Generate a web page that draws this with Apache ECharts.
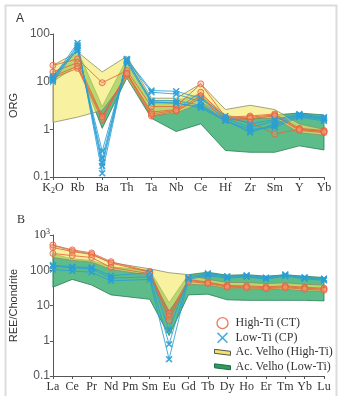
<!DOCTYPE html>
<html>
<head>
<meta charset="utf-8">
<script src="https://cdn.jsdelivr.net/npm/echarts@6/dist/echarts.min.js"></script>
<style>
  html, body { margin: 0; padding: 0; background: #fff; }
  #chart { width: 349px; height: 396px; }
</style>
</head>
<body>
<div id="chart"></div>
<script>
// categories
var orgElements = ['K2O', 'Rb', 'Ba', 'Th', 'Ta', 'Nb', 'Ce', 'Hf', 'Zr', 'Sm', 'Y', 'Yb']
var reeElements = ['La', 'Ce', 'Pr', 'Nd', 'Pm', 'Sm', 'Eu', 'Gd', 'Tb', 'Dy', 'Ho', 'Er', 'Tm', 'Yb', 'Lu']

// A - ORG normalized
// Ac. Velho fields (upper / lower limits)
var orgVelhoHighHi = [22, 42, 16, 34, 4.5, 4.5, 9, 2.6, 3.2, 2.6, 1.3, 1.0]
var orgVelhoHighLo = [1.4, 1.8, 2.5, 12, 1.9, 2.2, 3.5, 1.6, 1.7, 1.7, 0.85, 0.75]
var orgVelhoLowHi = [14, 45, 3.0, 30, 4.0, 4.0, 5.5, 2.0, 1.6, 2.0, 2.2, 2.0]
var orgVelhoLowLo = [10, 22, 1.05, 12, 1.7, 0.9, 1.3, 0.36, 0.33, 0.33, 0.45, 0.37]
// High-Ti (CT) samples
var orgCT1 = [22, 30, 9.5, 17, 3.0, 3.0, 9.0, 1.8, 1.9, 2.1, 1.05, 0.95]
var orgCT2 = [16, 25, 1.9, 15, 2.3, 2.6, 6.0, 1.7, 1.8, 2.0, 1.0, 0.9]
var orgCT3 = [12, 19, 1.6, 14, 1.9, 2.4, 4.5, 1.6, 1.7, 1.9, 0.95, 0.85]
var orgCT4 = [13, 21, 1.8, 15, 2.1, 2.5, 5.0, 1.7, 1.4, 0.8, 1.0, 0.9]
// Low-Ti (CP) samples
var orgCP1 = [12, 65, 0.12, 30, 6.5, 6.3, 4.5, 1.9, 1.3, 1.6, 2.1, 1.8]
var orgCP2 = [11, 58, 0.17, 28, 6.0, 5.5, 3.8, 1.7, 1.1, 1.5, 2.0, 1.7]
var orgCP3 = [10, 50, 0.25, 27, 4.0, 4.0, 3.2, 1.5, 0.9, 1.2, 1.9, 1.6]
var orgCP4 = [13, 45, 0.35, 25, 3.6, 3.6, 2.8, 1.5, 1.0, 1.1, 1.8, 1.5]
var orgCP5 = [11, 55, 0.2, 29, 3.8, 3.5, 3.0, 1.6, 0.85, 1.3, 2.0, 1.7]

// B - REE / Chondrite
var reeVelhoHighHi = [500, 360, 290, 165, null, 110, 85, 75, 55, 45, 45, 42, 44, 40, 38]
var reeVelhoHighLo = [230, 190, 170, 105, null, 72, 7, 40, 38, 30, 30, 28, 29, 26, 25]
var reeVelhoLowHi = [290, 210, 190, 125, null, 100, 12, 75, 88, 72, 75, 68, 74, 68, 62]
var reeVelhoLowLo = [33, 55, 38, 20, null, 15, 1.4, 20, 21, 14.5, 14, 14, 14, 14, 13.5]
var reeCT1 = [520, 380, 310, 175, null, 92, 6.0, 55, 46, 37, 36, 34, 36, 33, 31]
var reeCT2 = [440, 340, 280, 160, null, 88, 4.8, 52, 44, 35, 34, 32, 34, 31, 29]
var reeCT3 = [300, 260, 230, 120, null, 80, 3.8, 48, 42, 33, 32, 30, 32, 29, 27]
var reeCP1 = [140, 125, 120, 70, null, 85, 2.0, 62, 82, 68, 72, 62, 76, 63, 58]
var reeCP2 = [130, 118, 110, 60, null, 65, 0.8, 58, 76, 63, 68, 58, 72, 60, 55]
var reeCP3 = [105, 95, 88, 50, null, 55, 0.3, 55, 70, 60, 65, 56, 68, 57, 52]

var ctColor = '#e8643c'
var cpColor = '#2a9fd6'
var yellowFill = 'rgba(243, 232, 95, 0.6)'
var greenFill = 'rgba(70, 180, 122, 0.88)'
var serif = 'Liberation Serif'
var xPath = 'path://M0,1L1,0L5,4L9,0L10,1L6,5L10,9L9,10L5,6L1,10L0,9L4,5Z'
var bandPath = 'path://M0,2L16,4L16,8L0,6Z'

function fieldSeries (name, lo, hi, idx, fill, stroke) {
  return {
    type: 'custom',
    name: name,
    xAxisIndex: idx,
    yAxisIndex: idx,
    data: [[0, 1]],
    silent: true,
    z: 1,
    renderItem: function (params, api) {
      var pts = []
      for (var i = 0; i < hi.length; i++) {
        if (hi[i] != null) pts.push(api.coord([i, hi[i]]))
      }
      for (var j = lo.length - 1; j >= 0; j--) {
        if (lo[j] != null) pts.push(api.coord([j, lo[j]]))
      }
      return {
        type: 'polygon',
        shape: { points: pts },
        style: { fill: fill, stroke: stroke, lineWidth: 0.8 }
      }
    }
  }
}

function sampleSeries (name, vals, idx, color, symbol, fill) {
  return {
    type: 'line',
    name: name,
    xAxisIndex: idx,
    yAxisIndex: idx,
    data: vals,
    connectNulls: true,
    symbol: symbol,
    symbolSize: 6,
    silent: true,
    z: 3,
    lineStyle: { color: color, width: 1, opacity: 0.85 },
    itemStyle: { color: fill, borderColor: color, borderWidth: 1, opacity: 0.85 }
  }
}

function yLabel (value) {
  if (value >= 999) return '{n|10}{sup|3}'
  if (value >= 1) return String(Math.round(value))
  return '0.1'
}

function xLabel (value) {
  if (value === 'K2O') return '{n|K}{sub|2}{n|O}'
  return '{n|' + value + '}'
}

var labelRich = {
  n: { fontFamily: serif, fontSize: 12, color: '#333', lineHeight: 14 },
  sub: { fontFamily: serif, fontSize: 8, color: '#333', lineHeight: 8, verticalAlign: 'bottom' },
  sup: { fontFamily: serif, fontSize: 8, color: '#333', lineHeight: 8, verticalAlign: 'top' }
}

function makeX (cats, gridIndex) {
  return {
    type: 'category',
    gridIndex: gridIndex,
    data: cats,
    boundaryGap: false,
    axisLine: { lineStyle: { color: '#555', width: 1 } },
    axisTick: { show: true, length: 3, inside: false, lineStyle: { color: '#555' } },
    axisLabel: { interval: 0, margin: 4, formatter: xLabel, rich: labelRich },
    splitLine: { show: false }
  }
}

function makeY (name, max, gridIndex, gap) {
  return {
    type: 'log',
    logBase: 10,
    gridIndex: gridIndex,
    min: 0.1,
    max: max,
    name: name,
    nameLocation: 'middle',
    nameGap: gap,
    nameTextStyle: { fontFamily: 'Liberation Sans', fontSize: 11, color: '#333' },
    axisLine: { show: true, lineStyle: { color: '#555', width: 1 } },
    axisTick: { show: true, length: 3, lineStyle: { color: '#555' } },
    axisLabel: { margin: 3, formatter: yLabel, rich: labelRich },
    splitLine: { show: false },
    minorTick: { show: false }
  }
}

var chart = echarts.init(document.getElementById('chart'), null, { renderer: 'canvas' })

var series = [
  fieldSeries('Ac. Velho (Low-Ti)', orgVelhoLowLo, orgVelhoLowHi, 0, greenFill, '#2a7f55'),
  fieldSeries('Ac. Velho (High-Ti)', orgVelhoHighLo, orgVelhoHighHi, 0, yellowFill, '#8d8d6a'),
  fieldSeries('Ac. Velho (Low-Ti)', reeVelhoLowLo, reeVelhoLowHi, 1, greenFill, '#2a7f55'),
  fieldSeries('Ac. Velho (High-Ti)', reeVelhoHighLo, reeVelhoHighHi, 1, yellowFill, '#8d8d6a')
]
;[orgCT1, orgCT2, orgCT3, orgCT4].forEach(function (d) {
  series.push(sampleSeries('High-Ti (CT)', d, 0, ctColor, 'circle', 'rgba(245, 150, 120, 0.4)'))
})
;[reeCT1, reeCT2, reeCT3].forEach(function (d) {
  series.push(sampleSeries('High-Ti (CT)', d, 1, ctColor, 'circle', 'rgba(245, 150, 120, 0.4)'))
})
;[orgCP1, orgCP2, orgCP3, orgCP4, orgCP5].forEach(function (d) {
  series.push(sampleSeries('Low-Ti (CP)', d, 0, cpColor, xPath, cpColor))
})
;[reeCP1, reeCP2, reeCP3].forEach(function (d) {
  series.push(sampleSeries('Low-Ti (CP)', d, 1, cpColor, xPath, cpColor))
})

var option = {
  animation: false,
  backgroundColor: '#fff',
  grid: [
    { left: 43, right: 25, top: 34, height: 143 },
    { left: 43, right: 25, top: 235, height: 141 }
  ],
  xAxis: [makeX(orgElements, 0), makeX(reeElements, 1)],
  yAxis: [makeY('ORG', 100, 0, 24), makeY('REE/Chondrite', 1000, 1, 24)],
  legend: {
    orient: 'vertical',
    left: 214,
    top: 317,
    padding: 0,
    itemWidth: 16,
    itemHeight: 11,
    itemGap: 2.5,
    selectedMode: false,
    textStyle: { fontFamily: serif, fontSize: 12, color: '#333' },
    data: [
      { name: 'High-Ti (CT)', icon: 'circle', itemStyle: { color: '#fff', borderColor: ctColor, borderWidth: 1.3 } },
      { name: 'Low-Ti (CP)', icon: xPath, itemStyle: { color: cpColor, borderWidth: 0 } },
      { name: 'Ac. Velho (High-Ti)', icon: bandPath, itemStyle: { color: '#f0e460', borderColor: '#555', borderWidth: 1 } },
      { name: 'Ac. Velho (Low-Ti)', icon: bandPath, itemStyle: { color: '#2f9a62', borderColor: '#1f6e45', borderWidth: 1 } }
    ]
  },
  graphic: [
    { type: 'rect', left: 3, top: 3, shape: { width: 331, height: 420 }, style: { fill: 'none', stroke: '#dcdcdc', lineWidth: 2 }, silent: true, z: -1 },
    { type: 'text', left: 16, top: 13, style: { text: 'A', font: '12px Liberation Sans', fill: '#333' } },
    { type: 'text', left: 17, top: 214, style: { text: 'B', font: '12px Liberation Serif', fill: '#333' } }
  ],
  series: series
}

chart.setOption(option)
</script>
</body>
</html>
